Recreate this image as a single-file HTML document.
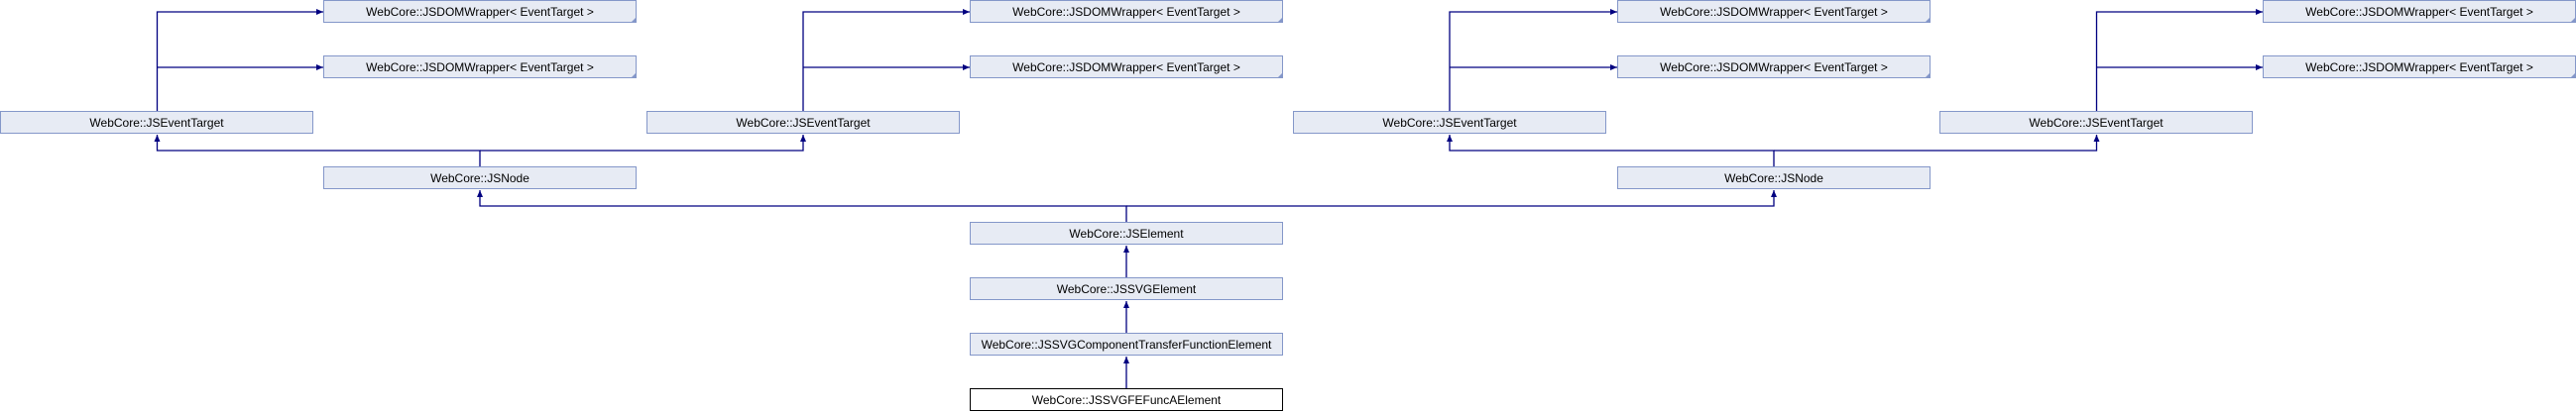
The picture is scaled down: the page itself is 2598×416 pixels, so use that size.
<!DOCTYPE html>
<html><head><meta charset="utf-8"><style>html,body{margin:0;padding:0;background:#fff}svg{display:block}text{font-family:"Liberation Sans",sans-serif;font-size:12px;fill:#000}</style></head><body>
<svg width="2598" height="416" viewBox="0 0 2598 416" xmlns="http://www.w3.org/2000/svg">
<defs><marker id="a" markerWidth="8" markerHeight="8" refX="7" refY="4" orient="auto" markerUnits="userSpaceOnUse"><path d="M0,1 L7,4 L0,7 Z" fill="#000080"/></marker></defs>
<g fill="none" stroke="#000080" stroke-width="1.3">
<path d="M158.5,112 V12 H326" marker-end="url(#a)"/>
<path d="M158.5,68 H326" marker-end="url(#a)"/>
<path d="M810,112 V12 H978" marker-end="url(#a)"/>
<path d="M810,68 H978" marker-end="url(#a)"/>
<path d="M1462,112 V12 H1631" marker-end="url(#a)"/>
<path d="M1462,68 H1631" marker-end="url(#a)"/>
<path d="M2114.5,112 V12 H2282" marker-end="url(#a)"/>
<path d="M2114.5,68 H2282" marker-end="url(#a)"/>
<path d="M484,168 V152 H158.5 V136" marker-end="url(#a)"/>
<path d="M484,152 H810 V136" marker-end="url(#a)"/>
<path d="M1789,168 V152 H1462 V136" marker-end="url(#a)"/>
<path d="M1789,152 H2114.5 V136" marker-end="url(#a)"/>
<path d="M1136,224 V208 H484 V192" marker-end="url(#a)"/>
<path d="M1136,208 H1789 V192" marker-end="url(#a)"/>
<path d="M1136,280 V248" marker-end="url(#a)"/>
<path d="M1136,336 V304" marker-end="url(#a)"/>
<path d="M1136,392 V360" marker-end="url(#a)"/>
</g>
<g stroke="#8497c9" stroke-width="1" fill="#e7ebf4">
<rect x="326.5" y="0.5" width="315" height="22"/><rect x="326.5" y="56.5" width="315" height="22"/>
<rect x="978.5" y="0.5" width="315" height="22"/><rect x="978.5" y="56.5" width="315" height="22"/>
<rect x="1631.5" y="0.5" width="315" height="22"/><rect x="1631.5" y="56.5" width="315" height="22"/>
<rect x="2282.5" y="0.5" width="315" height="22"/><rect x="2282.5" y="56.5" width="315" height="22"/>
<rect x="0.5" y="112.5" width="315" height="22"/><rect x="652.5" y="112.5" width="315" height="22"/>
<rect x="1304.5" y="112.5" width="315" height="22"/><rect x="1956.5" y="112.5" width="315" height="22"/>
<rect x="326.5" y="168.5" width="315" height="22"/><rect x="1631.5" y="168.5" width="315" height="22"/>
<rect x="978.5" y="224.5" width="315" height="22"/><rect x="978.5" y="280.5" width="315" height="22"/>
<rect x="978.5" y="336.5" width="315" height="22"/>
</g>
<rect x="978.5" y="392.5" width="315" height="22" fill="#fff" stroke="#000" stroke-width="1"/>
<g fill="#8497c9">
<path d="M641,18 V23 H636Z"/><path d="M641,74 V79 H636Z"/>
<path d="M1293,18 V23 H1288Z"/><path d="M1293,74 V79 H1288Z"/>
<path d="M1946,18 V23 H1941Z"/><path d="M1946,74 V79 H1941Z"/>
<path d="M2597,18 V23 H2592Z"/><path d="M2597,74 V79 H2592Z"/>
</g>
<g text-anchor="middle">
<text x="484" y="16">WebCore::JSDOMWrapper&lt; EventTarget &gt;</text><text x="484" y="72">WebCore::JSDOMWrapper&lt; EventTarget &gt;</text>
<text x="1136" y="16">WebCore::JSDOMWrapper&lt; EventTarget &gt;</text><text x="1136" y="72">WebCore::JSDOMWrapper&lt; EventTarget &gt;</text>
<text x="1789" y="16">WebCore::JSDOMWrapper&lt; EventTarget &gt;</text><text x="1789" y="72">WebCore::JSDOMWrapper&lt; EventTarget &gt;</text>
<text x="2440" y="16">WebCore::JSDOMWrapper&lt; EventTarget &gt;</text><text x="2440" y="72">WebCore::JSDOMWrapper&lt; EventTarget &gt;</text>
<text x="158" y="128">WebCore::JSEventTarget</text><text x="810" y="128">WebCore::JSEventTarget</text>
<text x="1462" y="128">WebCore::JSEventTarget</text><text x="2114" y="128">WebCore::JSEventTarget</text>
<text x="484" y="184">WebCore::JSNode</text><text x="1789" y="184">WebCore::JSNode</text>
<text x="1136" y="240">WebCore::JSElement</text>
<text x="1136" y="296">WebCore::JSSVGElement</text>
<text x="1136" y="352">WebCore::JSSVGComponentTransferFunctionElement</text>
<text x="1136" y="408">WebCore::JSSVGFEFuncAElement</text>
</g>
</svg>
</body></html>
